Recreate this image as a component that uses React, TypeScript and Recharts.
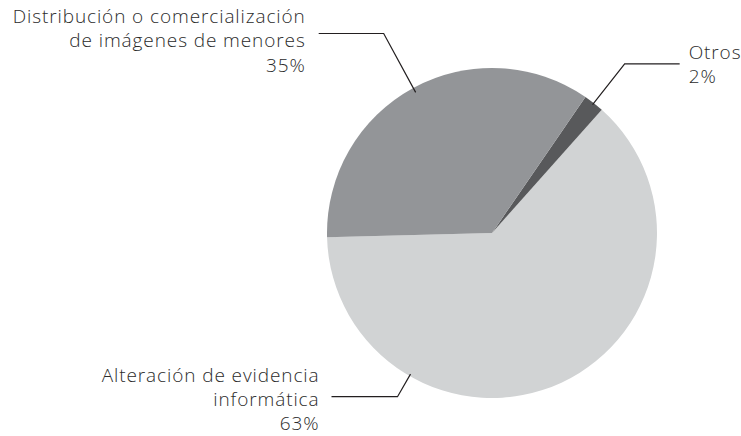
import React from 'react';
import { PieChart, Pie, Cell } from 'recharts';

const categories = [
  'Alteración de evidencia informática',
  'Otros',
  'Distribución o comercialización de imágenes de menores',
];
const labelLines = [
  ['Alteración de evidencia', 'informática'],
  ['Otros'],
  ['Distribución o comercialización', 'de imágenes de menores'],
];
const values = [63, 2, 35];
const colors = ['#d1d3d4', '#58595b', '#939598'];

const data = categories.map((name, i) => ({ name, value: values[i], lines: labelLines[i] }));

const labelCfg = [
  { angle: -120, r1: 163, r2: 189, dir: -1, len: 66, gap: 12, baselines: [-15, 9, 33] },
  { angle: null, r1: 163, r2: 215, dir: 1, len: 55, gap: 9, baselines: [-5, 19.5] },
  { angle: null, r1: 160, r2: 227, dir: -1, len: 65, gap: 13, baselines: [-11, 13.5, 38] },
];

const RAD = Math.PI / 180;

const renderLabel = (props: any) => {
  const { cx, cy, midAngle, outerRadius, index, value } = props;
  const cfg = labelCfg[index];
  const a = cfg.angle == null ? midAngle : cfg.angle;
  const k1 = cfg.r1 / 165;
  const k2 = cfg.r2 / 165;
  const x1 = cx + outerRadius * k1 * Math.cos(-a * RAD);
  const y1 = cy + outerRadius * k1 * Math.sin(-a * RAD);
  const x2 = cx + outerRadius * k2 * Math.cos(-a * RAD);
  const y2 = cy + outerRadius * k2 * Math.sin(-a * RAD);
  const x3 = x2 + cfg.dir * cfg.len;
  const tx = x3 + cfg.dir * cfg.gap;
  const lines = [...data[index].lines, `${value}%`];
  return (
    <g key={`lbl-${index}`}>
      <polyline
        points={`${x1},${y1} ${x2},${y2} ${x3},${y2}`}
        fill="none"
        stroke="#231f20"
        strokeWidth={1.2}
      />
      <text
        x={tx}
        y={y2}
        textAnchor={cfg.dir < 0 ? 'end' : 'start'}
        fill="#2b2b2b"
        fontFamily="'Open Sans', Lato, sans-serif"
        fontWeight={300}
        fontSize={19}
        letterSpacing={0.9}
      >
        {lines.map((ln, i) => (
          <tspan key={i} x={tx} y={y2 + cfg.baselines[i]}>
            {ln}
          </tspan>
        ))}
      </text>
    </g>
  );
};

export default function App() {
  return (
    <div style={{ position: 'absolute', left: 0, top: 0, background: '#fff' }}>
      <PieChart width={741} height={436} margin={{ top: 0, right: 0, bottom: 0, left: 0 }}>
        <Pie
          data={data}
          dataKey="value"
          nameKey="name"
          cx={492}
          cy={233}
          outerRadius={165}
          startAngle={-178.5}
          endAngle={181.5}
          stroke="none"
          label={renderLabel}
          labelLine={false}
          isAnimationActive={false}
        >
          {data.map((d, i) => (
            <Cell key={d.name} fill={colors[i]} />
          ))}
        </Pie>
      </PieChart>
    </div>
  );
}
